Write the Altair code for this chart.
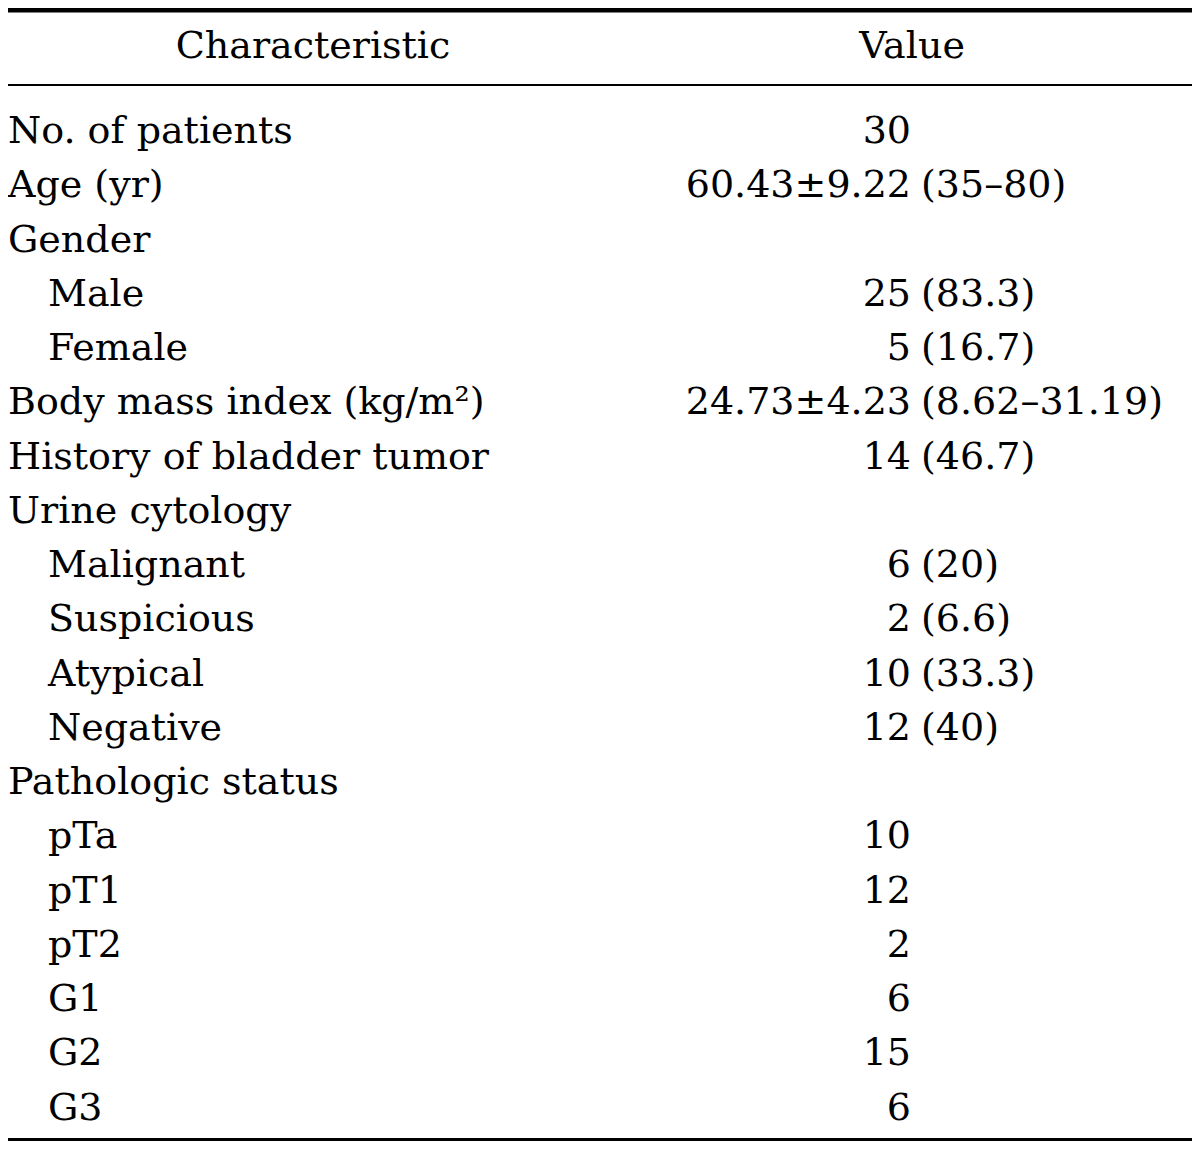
import altair as alt
import pandas as pd

# ---- table content ----
header_labels = ["Characteristic", "Value"]

characteristics = [
    "No. of patients", "Age (yr)", "Gender", "Male", "Female",
    "Body mass index (kg/m\u00b2)", "History of bladder tumor", "Urine cytology",
    "Malignant", "Suspicious", "Atypical", "Negative", "Pathologic status",
    "pTa", "pT1", "pT2", "G1", "G2", "G3",
]
indented = [0, 0, 0, 1, 1, 0, 0, 0, 1, 1, 1, 1, 0, 1, 1, 1, 1, 1, 1]
value_main = [
    "30", "60.43\u00b19.22", "", "25", "5", "24.73\u00b14.23", "14", "",
    "6", "2", "10", "12", "", "10", "12", "2", "6", "15", "6",
]
value_paren = [
    "", "(35\u201380)", "", "(83.3)", "(16.7)", "(8.62\u201331.19)", "(46.7)", "",
    "(20)", "(6.6)", "(33.3)", "(40)", "", "", "", "", "", "", "",
]

# ---- layout (page has an 8px margin; keep the whole page inside 1200x1149) ----
W, H = 1184, 1133
FONT = "DejaVu Serif"
FS = 38
first_row, row_step = 124, 54.25
label_x = {0: 0, 1: 40}
main_right_x = 903
paren_left_x = 913

rows = pd.DataFrame({
    "label": characteristics,
    "main": value_main,
    "paren": value_paren,
    "x": [label_x[i] for i in indented],
    "y": [first_row + k * row_step for k in range(len(characteristics))],
})
rows["xm"] = main_right_x
rows["xp"] = paren_left_x

head = pd.DataFrame({"label": header_labels, "x": [305, 904], "y": [39, 39]})
lines = pd.DataFrame({"y": [2.25, 77, 1131.5], "w": [4.5, 2.2, 3]})

xs = alt.Scale(domain=[0, W], nice=False, zero=False)
ys = alt.Scale(domain=[0, H], nice=False, zero=False, reverse=True)

rules = alt.Chart(lines).mark_rule(color="black").encode(
    x=alt.value(0), x2=alt.value(W),
    y=alt.Y("y:Q", scale=ys, axis=None),
    strokeWidth=alt.StrokeWidth("w:Q", scale=None, legend=None),
)

txt = dict(baseline="middle", font=FONT, fontSize=FS, color="black")

header = alt.Chart(head).mark_text(align="center", **txt).encode(
    x=alt.X("x:Q", scale=xs, axis=None),
    y=alt.Y("y:Q", scale=ys, axis=None),
    text="label:N",
)
labels = alt.Chart(rows).mark_text(align="left", **txt).encode(
    x=alt.X("x:Q", scale=xs, axis=None),
    y=alt.Y("y:Q", scale=ys, axis=None),
    text="label:N",
)
mains = alt.Chart(rows).mark_text(align="right", **txt).encode(
    x=alt.X("xm:Q", scale=xs, axis=None),
    y=alt.Y("y:Q", scale=ys, axis=None),
    text="main:N",
)
parens = alt.Chart(rows).mark_text(align="left", **txt).encode(
    x=alt.X("xp:Q", scale=xs, axis=None),
    y=alt.Y("y:Q", scale=ys, axis=None),
    text="paren:N",
)

chart = alt.layer(rules, header, labels, mains, parens).properties(
    width=W, height=H, padding=0, autosize=alt.AutoSizeParams(type="none"),
    background="white",
).configure_view(stroke=None)

chart.save("out.html", embed_options={"renderer": "svg", "actions": False})
